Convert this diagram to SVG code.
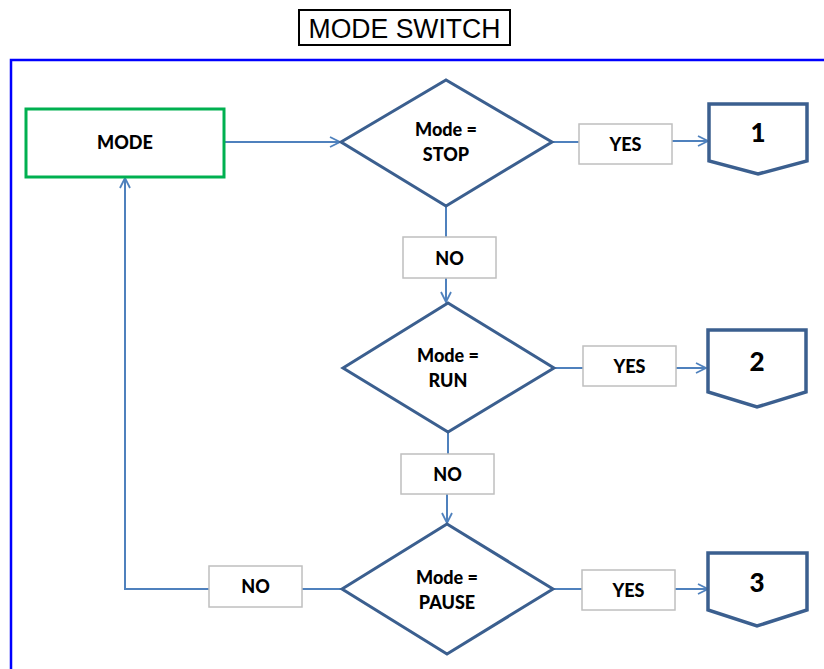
<svg xmlns="http://www.w3.org/2000/svg" width="824" height="669" viewBox="0 0 824 669">
<defs>
<style>
.dia{fill:#fff;stroke:#3B5F8F;stroke-width:3;stroke-linejoin:miter}
.off{fill:#fff;stroke:#3B5F8F;stroke-width:3.5;stroke-linejoin:miter}
.lbl{fill:#fff;stroke:#BFBFBF;stroke-width:1.5}
.con{fill:none;stroke:#4F81BD;stroke-width:2}
.t{font-family:Lato,"Open Sans","Liberation Sans",sans-serif;font-weight:900;font-size:18px;fill:#000;text-anchor:middle}
.big{font-family:Lato,"Liberation Sans",sans-serif;font-weight:900;font-size:26px;fill:#000;text-anchor:middle}
</style>
<marker id="ah" viewBox="0 0 12 12" refX="11" refY="6" markerWidth="12" markerHeight="12" markerUnits="userSpaceOnUse" orient="auto">
<path d="M1,1 L11,6 L1,11" fill="none" stroke="#4F81BD" stroke-width="1.8"/>
</marker>
</defs>
<rect width="824" height="669" fill="#fff"/>
<g id="title">
<rect x="299" y="10" width="211" height="35" fill="#fff" stroke="#000" stroke-width="2"/>
<text x="404.5" y="37.5" font-family="'Liberation Sans',Arial,sans-serif" font-size="27" text-anchor="middle" textLength="192" lengthAdjust="spacingAndGlyphs">MODE SWITCH</text>
</g>
<g id="frame">
<polyline points="11,669 11,60 824,60" fill="none" stroke="#0000FF" stroke-width="2.5"/>
</g>
<g id="connectors">
<line class="con" x1="224" y1="142" x2="340" y2="142" marker-end="url(#ah)"/>
<line class="con" x1="552" y1="142" x2="579" y2="142"/>
<line class="con" x1="672" y1="141" x2="708" y2="141" marker-end="url(#ah)"/>
<line class="con" x1="446" y1="206" x2="446" y2="237"/>
<line class="con" x1="446" y1="278" x2="446" y2="302" marker-end="url(#ah)"/>
<line class="con" x1="554" y1="368" x2="583" y2="368"/>
<line class="con" x1="676" y1="368" x2="706" y2="368" marker-end="url(#ah)"/>
<line class="con" x1="448" y1="432" x2="448" y2="454"/>
<line class="con" x1="447" y1="494" x2="447" y2="523" marker-end="url(#ah)"/>
<line class="con" x1="553" y1="589" x2="582" y2="589"/>
<line class="con" x1="675" y1="589" x2="708" y2="589" marker-end="url(#ah)"/>
<line class="con" x1="342" y1="589" x2="302" y2="589"/>
<polyline class="con" points="209,589 125,589 125,178" marker-end="url(#ah)"/>
</g>
<g id="mode">
<rect x="26" y="109" width="198" height="68" fill="#fff" stroke="#00B050" stroke-width="3"/>
<text class="t" x="125" y="149">MODE</text>
</g>
<g id="dec-stop">
<polygon class="dia" points="341,142 446,80 552,142 446,206"/>
<text class="t" x="446" y="136">Mode =</text>
<text class="t" x="446" y="161">STOP</text>
</g>
<g id="dec-run">
<polygon class="dia" points="343,368 448,303 554,368 448,432"/>
<text class="t" x="448" y="362">Mode =</text>
<text class="t" x="448" y="387">RUN</text>
</g>
<g id="dec-pause">
<polygon class="dia" points="342,589 447,524 553,589 447,654"/>
<text class="t" x="447" y="584">Mode =</text>
<text class="t" x="447" y="609">PAUSE</text>
</g>
<g id="yes1"><rect class="lbl" x="579" y="124" width="93" height="40"/><text class="t" x="625.5" y="151">YES</text></g>
<g id="yes2"><rect class="lbl" x="583" y="346" width="93" height="40"/><text class="t" x="629.5" y="373">YES</text></g>
<g id="yes3"><rect class="lbl" x="582" y="570" width="93" height="40"/><text class="t" x="628.5" y="597">YES</text></g>
<g id="no1"><rect class="lbl" x="403" y="237" width="93" height="41"/><text class="t" x="449.5" y="265">NO</text></g>
<g id="no2"><rect class="lbl" x="401" y="454" width="93" height="40"/><text class="t" x="447.5" y="481">NO</text></g>
<g id="no3"><rect class="lbl" x="209" y="566" width="93" height="41"/><text class="t" x="255.5" y="593">NO</text></g>
<g id="page1"><polygon class="off" points="709,104 807,104 807,161 758,174 709,161"/><text class="big" x="758" y="142">1</text></g>
<g id="page2"><polygon class="off" points="708,330 806,330 806,392 757,407 708,392"/><text class="big" x="757" y="371">2</text></g>
<g id="page3"><polygon class="off" points="708,553 807,553 807,610 757,626 708,610"/><text class="big" x="757" y="592">3</text></g>
</svg>
